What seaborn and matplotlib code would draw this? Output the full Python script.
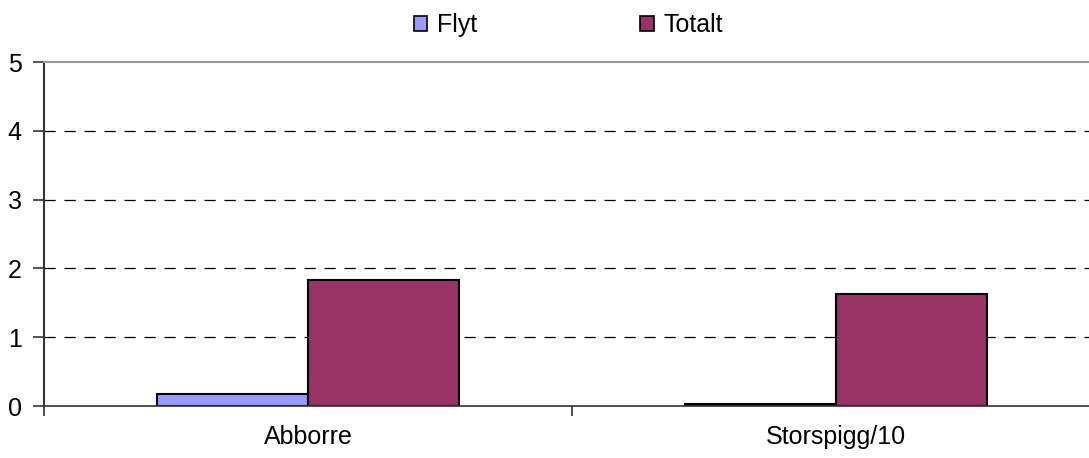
import matplotlib
matplotlib.use("Agg")
import matplotlib.pyplot as plt
import seaborn as sns
import pandas as pd

categories = ["Abborre", "Storspigg/10"]
flyt = [0.17, 0.03]
totalt = [1.83, 1.63]
series_names = ["Flyt", "Totalt"]
colors = ["#9999FF", "#993366"]

df = pd.DataFrame({
    "art": categories * 2,
    "serie": [series_names[0]] * 2 + [series_names[1]] * 2,
    "varde": flyt + totalt,
})

sns.set_style("white")
plt.rcParams["font.family"] = ["Liberation Sans", "DejaVu Sans"]
plt.rcParams["text.color"] = "black"
plt.rcParams["xtick.color"] = "black"
plt.rcParams["ytick.color"] = "black"

fig = plt.figure(figsize=(10.89, 4.58), dpi=100)
# axes run a little past the right edge, like the original
ax = fig.add_axes([44 / 1089, 1 - 406 / 458, 1056 / 1089, 344 / 458])

sns.barplot(data=df, x="art", y="varde", hue="serie", palette=colors,
            width=0.572, gap=0, edgecolor="black", linewidth=1.5,
            saturation=1, ax=ax, legend=False)

ax.set_xlim(-0.5, 1.5)
ax.set_ylim(0, 5)
ax.set_yticks(range(0, 6))
ax.set_xlabel("")
ax.set_ylabel("")

# dashed grid
for y in range(1, 5):
    ax.axhline(y, color="black", linestyle=(0, (9, 7)), linewidth=0.9, zorder=0)

ax.spines["right"].set_visible(False)
ax.spines["top"].set_color("#999999")
ax.spines["top"].set_linewidth(1.5)
ax.spines["left"].set_color("#333333")
ax.spines["left"].set_linewidth(1.5)
ax.spines["bottom"].set_color("#333333")
ax.spines["bottom"].set_linewidth(1.2)

ax.tick_params(axis="y", which="major", direction="out", length=8, width=1.2,
               color="#333333", labelcolor="black", labelsize=18, pad=8, left=True)
ax.tick_params(axis="x", which="major", length=0, labelsize=18, labelcolor="black", pad=14)
ax.set_xticks([-0.5, 0.5, 1.5], minor=True)
ax.tick_params(axis="x", which="minor", direction="out", length=7, width=1.2,
               color="#333333", bottom=True)

handles = [plt.Rectangle((0, 0), 1, 1, facecolor=c, edgecolor="black", linewidth=1.2)
           for c in colors]
fig.legend(handles, series_names, loc="center", bbox_to_anchor=(0.522, 1 - 25 / 458),
           ncol=2, frameon=False, fontsize=18, handlelength=0.55, handleheight=0.55,
           handletextpad=0.4, columnspacing=6.5, labelcolor="black")

fig.savefig("out.png", dpi=100)
